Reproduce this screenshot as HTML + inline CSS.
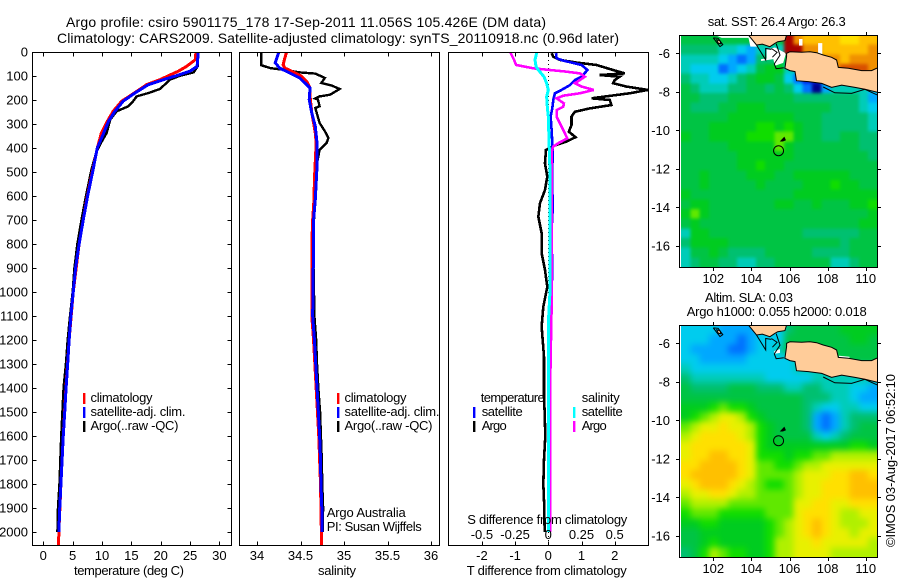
<!DOCTYPE html>
<html>
<head>
<meta charset="utf-8">
<title>Argo profile chart</title>
<style>
html,body{margin:0;padding:0;background:#fff;width:900px;height:580px;overflow:hidden}
svg{display:block;font-family:"Liberation Sans",sans-serif;fill:#000}
</style>
</head>
<body>
<svg id="chart" xmlns="http://www.w3.org/2000/svg" width="900" height="580" viewBox="0 0 900 580"></svg>
<script>
/* ---------- temperature panel ---------- */
const argoTempDepth=[0,60,85,99,115,140,154,171,185,205,226,247,282,337,380,420,490,600,700,800,900,1000,1100,1200,1300,1400,1500,1600,1700,1800,1900,2000];
const argoTemp=[26.3,26.3,25.6,23.3,21.6,20.5,19.9,17.9,15.9,15.3,14.5,12.5,11.4,10.8,9.8,9,8.2,7.27,6.5,5.8,5.3,5,4.55,4.15,3.85,3.45,3.25,3.05,2.9,2.75,2.5,2.4];
const climTempDepth=[0,32,60,80,99,115,136,171,205,247,289,337,400,500,600,800,1000,1200,1400,1600,1800,2000,2054];
const climTemp=[26,25.9,24.4,23,21.3,19.9,17.6,15.5,13.35,11.9,10.9,9.9,9.2,8.35,7.5,6.1,5.1,4.4,3.85,3.4,3,2.65,2.6];
const satTempDepth=[0,60,80,94,115,136,171,205,247,289,337,400,500,600,700,800,900,1000,1100,1200,1300,1400,1500,1600,1700,1800,1900,2000];
const satTemp=[26.4,26.2,25,23.3,20.5,17.9,15.6,13.6,12.2,11.1,10.3,9.2,8.4,7.55,6.8,6.1,5.5,5.1,4.7,4.4,4.15,3.88,3.65,3.4,3.2,3,2.8,2.65];
/* ---------- salinity panel ---------- */
const argoSalDepth=[0,55,67,74,85,90,108,129,140,154,178,185,194,198,226,233,296,330,358,379,407,462,615,700,800,900,1000,1100,1200,1300,1400,1500,1600,1700,1800,1900,2000];
const argoSal=[34.05,34.05,34.15,34.3,34.49,34.67,34.78,34.74,34.86,34.95,34.84,34.72,34.67,34.7,34.72,34.67,34.72,34.78,34.82,34.8,34.72,34.69,34.67,34.655,34.655,34.65,34.655,34.66,34.68,34.69,34.705,34.725,34.735,34.745,34.75,34.76,34.755];
const climSalDepth=[0,25,53,67,80,100,122,150,185,254,337,380,532,615,700,800,1100,1200,1400,1600,1800,2000,2054];
const climSal=[34.34,34.32,34.3,34.32,34.4,34.51,34.57,34.61,34.61,34.63,34.67,34.68,34.66,34.655,34.64,34.63,34.63,34.65,34.68,34.71,34.73,34.74,34.74];
const satSalDepth=[0,45,67,88,108,150,199,254,310,380,476,615,700,800,1100,1200,1300,1400,1500,1600,1700,1800,1900,2000];
const satSal=[34.25,34.21,34.26,34.38,34.49,34.61,34.6,34.63,34.67,34.69,34.69,34.67,34.65,34.65,34.64,34.66,34.675,34.69,34.705,34.72,34.73,34.735,34.745,34.745];
/* ---------- difference panel ---------- */
const diffTArgoDepth=[5,20,33,44,54,75,89,96,103,117,130,144,158,172,193,200,221,235,249,269,304,332,355,373,387,408,464,519,575,630,686,755,839,908,978,1061,1144,1269,1436,1500,1600,1700,1800,1900,2000];
const diffTArgo=[0.1,0.15,0.35,0.85,1.45,1.95,2.3,1.55,2.15,2,1.95,2.35,3,2.45,1.3,1.85,1.9,1.25,0.8,0.7,0.7,0.62,0.82,0.55,0.25,-0.07,-0.1,-0.03,-0.1,-0.25,-0.3,-0.2,-0.2,-0.1,-0.03,-0.15,-0.2,-0.13,-0.13,-0.11,-0.09,-0.13,-0.15,-0.12,-0.11];
const diffTSatDepth=[5,26,36,44,54,75,103,117,138,158,172,200,235,269,325,408,520,660,740,940,1000,1500,2000];
const diffTSat=[0.23,0.25,0.45,0.7,1,1.18,1,0.8,0.65,0.4,0.2,0.15,0.12,0.07,0.1,0.13,0.12,0.13,0.1,0.12,0.07,0.06,0.05];
const diffSArgoDepth=[0,33,54,68,75,82,89,103,117,130,144,158,172,182,193,214,228,242,269,297,339,360,380,394,415,492,630,922,1061,1200,1436,2000];
const diffSArgo=[-0.2875,-0.2575,-0.2425,-0.1125,0.0125,0.1375,0.2375,0.275,0.2375,0.2,0.25,0.3425,0.2375,0.1125,0.0625,0.1175,0.1125,0.0625,0.0625,0.0875,0.125,0.1425,0.075,0.0375,0.025,0.025,0.025,0.025,0.025,0.02,0.0125,0.0125];
const diffSSatDepth=[3,33,61,75,103,130,158,186,228,269,492,1000,1100,1900,2000];
const diffSSat=[-0.0875,-0.1,-0.0925,-0.075,-0.0325,-0.0125,0,-0.0125,-0.0075,0,0.0125,0.0125,0.003,0.003,0];
/* ---------- axis ticks ---------- */
const depthTicks=[0,100,200,300,400,500,600,700,800,900,1000,1100,1200,1300,1400,1500,1600,1700,1800,1900,2000];
const tempTicks=[0,5,10,15,20,25,30];
const salTicks=[34,34.5,35,35.5,36];
const salTickLabels=["34","34.5","35","35.5","36"];
const diffTTicks=[-2,-1,0,1,2];
const diffSTicks=[-0.5,-0.25,0,0.25,0.5];
const diffSTickLabels=["-0.5","-0.25","0","0.25","0.5"];
const lonTicks=[102,104,106,108,110];
const latTicks=[-6,-8,-10,-12,-14,-16];
/* ---------- maps: colour class per 0.5 degree cell, north to south ---------- */
const sstGrid=[
[7,7,7,7,7,7,7,7,7,7,7,17,15,14,14,14,14,13,13,14,14],
[6,6,6,6,5,5,4,3,5,5,5,17,17,15,15,14,14,14,14,14,15],
[5,5,5,5,4,3,2,3,6,6,6,7,7,7,7,15,15,14,15,15,15],
[5,4,4,4,2,3,4,5,7,8,8,5,5,5,5,5,15,16,16,16,15],
[6,5,5,4,4,5,6,7,8,8,7,4,2,1,1,3,5,5,5,5,5],
[7,6,5,5,5,6,6,7,7,6,7,6,4,2,0,3,5,5,5,5,4],
[7,7,6,6,6,7,7,7,7,7,7,7,6,6,6,6,6,6,6,5,3],
[7,6,6,6,7,7,8,8,8,7,7,7,7,7,7,7,6,6,6,5,4],
[7,7,7,7,7,8,8,8,8,8,8,8,7,7,7,6,6,6,6,6,5],
[7,7,7,8,8,8,8,8,9,9,8,9,8,7,7,6,6,6,6,6,5],
[8,7,7,8,8,8,8,9,9,9,10,10,8,7,7,6,6,7,7,6,6],
[7,7,7,7,7,8,8,8,8,8,10,8,7,7,7,7,7,7,7,6,6],
[7,7,7,7,7,7,8,8,8,8,8,8,7,7,7,7,7,7,7,7,6],
[7,7,7,7,7,7,8,8,9,8,8,7,7,7,7,7,7,7,7,7,7],
[7,7,8,7,7,7,7,8,8,8,7,7,8,8,8,8,8,8,7,7,7],
[7,7,8,7,7,7,7,7,8,7,7,7,7,8,8,8,9,8,8,7,7],
[8,7,7,7,7,7,7,7,7,7,7,7,8,8,8,8,8,8,8,8,8],
[7,8,8,7,7,7,7,7,7,7,8,8,7,7,8,7,7,7,8,8,9],
[8,10,8,7,7,7,7,7,7,7,7,7,7,7,7,7,7,7,7,7,8],
[7,8,7,7,7,7,7,7,7,7,7,7,7,7,7,7,7,7,7,8,8],
[5,8,8,7,7,7,7,7,7,7,7,7,7,6,6,6,6,6,6,7,7],
[6,8,8,8,8,7,7,7,7,7,7,7,7,7,7,7,7,6,7,7,7],
[5,7,7,8,7,6,6,6,6,7,7,7,7,7,6,6,6,6,7,7,7],
[5,6,7,7,6,6,5,5,6,6,7,7,7,7,7,7,5,5,6,7,7]];
const slaGrid=[
[4,4,4,4,3,3,3,3,4,4,4,6,7,7,7,7,7,8,8,8,8],
[4,4,4,3,3,3,2,3,4,4,4,7,7,7,7,7,7,7,8,8,7],
[4,3,3,3,3,2,2,3,4,4,5,7,7,7,7,7,7,7,7,7,7],
[4,4,3,3,3,3,3,4,4,4,4,4,5,5,5,5,7,7,7,7,7],
[5,4,4,4,4,4,4,4,4,4,4,4,5,5,5,5,5,5,5,5,5],
[6,5,5,5,5,5,5,5,5,4,4,4,4,4,5,5,5,5,5,5,5],
[7,6,6,6,6,7,7,7,6,6,6,5,5,6,6,5,5,5,4,4,3],
[7,7,7,7,7,7,7,7,7,7,7,7,7,6,6,6,5,5,4,3,3],
[8,8,8,9,10,9,9,8,7,7,7,7,7,6,5,4,4,5,5,4,4],
[8,9,10,11,12,12,11,9,8,7,7,7,7,6,3,2,3,5,6,6,6],
[10,11,12,12,13,12,12,11,9,8,7,7,7,6,3,2,3,5,6,7,7],
[11,12,13,13,13,13,12,11,9,8,7,7,7,7,5,4,5,6,7,7,7],
[12,13,13,13,13,13,13,12,9,8,8,8,8,8,8,8,8,8,9,9,8],
[12,13,13,14,14,13,13,12,9,9,9,8,9,9,10,10,11,11,11,11,11],
[13,13,14,14,14,14,13,12,10,10,9,9,10,11,11,12,12,12,12,12,12],
[13,14,14,14,14,14,13,12,10,10,10,10,11,12,12,12,13,13,14,14,13],
[12,13,14,14,14,13,12,11,10,9,9,10,11,12,12,13,13,13,14,14,14],
[11,12,12,13,13,12,11,11,10,10,10,10,11,12,12,13,13,13,14,14,14],
[10,11,11,11,11,10,10,10,10,10,10,10,12,12,13,13,12,12,13,13,13],
[9,10,10,10,9,9,9,9,9,10,10,10,12,13,13,13,12,11,11,12,12],
[8,8,9,9,8,8,8,8,8,9,10,11,12,13,14,13,12,11,11,11,12],
[7,7,8,8,8,8,8,8,8,9,10,11,12,13,14,13,12,12,11,12,12],
[7,7,8,9,8,8,8,8,8,9,11,11,12,12,13,12,12,12,12,12,11],
[6,7,9,11,10,9,9,8,8,9,11,11,12,12,12,12,11,11,11,11,11]];
const colourClasses=["#00008c","#0020e0","#0070ff","#00a8ff","#00ccee","#00ccb8","#00c070","#00c444","#00cc20","#10dd00","#60e800","#b0f000","#e8f000","#ffe000","#ffc000","#f09000","#d85000","#a80000"];
/* ---------- geography (lon, lat pairs) ---------- */
const sumatraCoast=[[103.84,-5.05],[104.27,-5.57],[104.57,-5.52],[104.97,-5.66],[105.24,-5.48],[105.38,-5.4],[105.76,-5.34],[105.85,-5.05]];
const javaCoast=[[105.85,-6],[106.02,-5.92],[106.64,-5.95],[107.07,-5.92],[107.42,-5.97],[107.77,-6.09],[108.21,-6.21],[108.47,-6.35],[108.56,-6.73],[109.09,-6.78],[109.79,-6.9],[110.31,-6.9],[110.57,-6.78],[110.7,-6.78],[110.7,-8.04],[109.96,-7.87],[109.44,-7.77],[108.74,-7.65],[108.21,-7.77],[107.69,-7.56],[106.99,-7.47],[106.37,-7.42],[106.29,-6.95],[106.02,-6.9],[105.76,-6.78],[105.85,-6.17]];
const offshoreLine=[[107.77,-7.75],[108.38,-8.05],[109.26,-8.08],[109.96,-7.87],[110.57,-8.15],[110.7,-8.18]];
const sundaLineA=[[104.27,-5.57],[104.75,-6.35],[104.75,-5.75],[105.05,-5.8]];
const sundaLineB=[[105.3,-5.5],[105.5,-6.1],[105.2,-6.55],[105.3,-6.8],[105.7,-6.75]];
const sundaLineC=[[105.05,-5.75],[105.35,-5.95],[105.1,-6.2]];
const engganoLine=[[102,-5.2],[102.25,-5.22],[102.5,-5.55],[102.35,-5.65],[102.15,-5.4],[102,-5.2]];
const engganoLand=[[102.18,-5.3],[102.35,-5.35],[102.4,-5.5],[102.27,-5.48]];
const christmasIsland=[[105.55,-10.55],[105.72,-10.37],[105.78,-10.5],[105.65,-10.55]];
const sstMissingA=[[102.09,-5.05],[103.88,-5.05],[104.33,-5.65],[103.95,-5.65],[103.85,-5.2],[102.44,-5.2]];
const sstMissingB=[[104.51,-6.3],[104.8,-6.27],[104.8,-5.8],[105.24,-5.7],[105.76,-5.97],[105.8,-6.05],[105.67,-6.5],[105.24,-6.65],[105.15,-6.3],[104.51,-6.4]];
const sstMissingC=[[106.5,-5.26],[106.68,-5.26],[106.68,-5.6],[106.5,-5.6]];
const sstMissingD=[[107.5,-5.47],[107.72,-5.47],[107.72,-6.15],[107.5,-6.15]];
const slaMissingA=[[105.2,-6.4],[105.5,-6.3],[105.5,-6.5],[105.2,-6.55]];
const slaMissingB=[[108.6,-6.65],[109.15,-6.7],[109.15,-6.78],[108.6,-6.75]];
const argoLon=105.426;
const argoLat=-11.056;

const NS="http://www.w3.org/2000/svg";
const svg=document.getElementById("chart");
function mk(tag,parent,attrs){
  const e=document.createElementNS(NS,tag);
  for(const k in attrs){e.setAttribute(k,attrs[k]);}
  parent.appendChild(e);
  return e;
}
function label(parent,name,str,x,y,opts){
  const o=opts||{};
  const a={x:x,y:y,"font-size":o.size||13,"text-anchor":o.anchor||"start"};
  if(o.len){a.textLength=o.len;a.lengthAdjust="spacing";}
  if(o.transform){a.transform=o.transform;}
  const t=mk("text",parent,a);
  t.textContent=str;
  
  
  return t;
}
function yDepth(d){return 52+0.24*d;}
function xTemp(v){return 43.3+5.87*v;}
function xSal(v){return 257+87*(v-34);}
function xDiffT(v){return 548.3+33.2*v;}
function xDiffS(v){return xDiffT(v*4);}

const defs=mk("defs",svg,{});
function defsClip(id,x,y,w,h){
  const c=mk("clipPath",defs,{id:id});
  mk("rect",c,{x:x,y:y,width:w,height:h});
}
function defsBlur(id,dev){
  const f=mk("filter",defs,{id:id,filterUnits:"userSpaceOnUse",x:650,y:0,width:250,height:580,"color-interpolation-filters":"sRGB"});
  mk("feGaussianBlur",f,{stdDeviation:dev});
}
function trace(parent,name,xs,ds,xf,color,w,clip){
  const pts=xs.map(function(v,i){return xf(v).toFixed(2)+","+yDepth(ds[i]).toFixed(2);}).join(" ");
  const p=mk("polyline",parent,{points:pts,fill:"none",stroke:color,"stroke-width":w,"clip-path":"url(#"+clip+")","stroke-linejoin":"miter","shape-rendering":"crispEdges"});
  
  
}
function frame(parent,name,x0,x1,y0,y1){
  const r=mk("rect",parent,{x:x0,y:y0,width:x1-x0,height:y1-y0,fill:"none",stroke:"#000","stroke-width":1,"shape-rendering":"crispEdges"});
  
  
}
function tick(parent,name,x1,y1,x2,y2){
  const l=mk("line",parent,{x1:x1,y1:y1,x2:x2,y2:y2,stroke:"#000","stroke-width":1,"shape-rendering":"crispEdges"});
  
  
}
function legendBar(parent,name,x,y,color){
  const r=mk("rect",parent,{x:x,y:y,width:2.4,height:11,fill:color});
  
  
}
function xTicksInward(parent,vals,xf){
  vals.forEach(function(v){
    const x=Math.round(xf(v))+0.5;
    tick(parent,'x-tick',x,52.5,x,56.5);
    tick(parent,'x-tick',x,545.5,x,541.5);
  });
}

/* titles */
const titleG=mk("g",svg,{});


label(titleG,'title-line-1',"Argo profile: csiro 5901175_178 17-Sep-2011 11.056S 105.426E (DM data)",66,27,{size:14,len:480});
label(titleG,'title-line-2',"Climatology: CARS2009. Satellite-adjusted climatology: synTS_20110918.nc (0.96d later)",57,43,{size:14,len:562});

/* temperature panel */
defsClip("clipT",33,53,198,492);
const pT=mk("g",svg,{});


trace(pT,'argo-temperature-line',argoTemp,argoTempDepth,xTemp,"#000",2.4,"clipT");
trace(pT,'climatology-temperature-line',climTemp,climTempDepth,xTemp,"#ff0000",3,"clipT");
trace(pT,'satellite-temperature-line',satTemp,satTempDepth,xTemp,"#0000ff",3,"clipT");
frame(pT,'temperature-frame',32.5,231.5,52.5,545.5);
depthTicks.forEach(function(d){
  const y=Math.round(yDepth(d))+0.5;
  if(d>0){
    tick(pT,'depth-tick',32.5,y,36.5,y);
    tick(pT,'depth-tick',231.5,y,227.5,y);
  }
  label(pT,'depth-label',String(d),28,yDepth(d)+4.5,{anchor:"end"});
});
xTicksInward(pT,tempTicks,xTemp);
tempTicks.forEach(function(v){label(pT,'temperature-tick-label',String(v),xTemp(v),560,{anchor:"middle"});});
label(pT,'temperature-axis-title',"temperature (deg C)",74,575,{len:110});
legendBar(pT,'legend-climatology-swatch',83,393,"#ff0000");
label(pT,'legend-climatology-label',"climatology",90.5,402,{len:62});
legendBar(pT,'legend-satellite-swatch',83,407,"#0000ff");
label(pT,'legend-satellite-label',"satellite-adj. clim.",90.5,416,{len:95});
legendBar(pT,'legend-argo-swatch',83,421,"#000");
label(pT,'legend-argo-label',"Argo(..raw -QC)",90.5,430,{len:88});

/* salinity panel */
defsClip("clipS",240,53,199,492);
const pS=mk("g",svg,{});


trace(pS,'argo-salinity-line',argoSal,argoSalDepth,xSal,"#000",2.4,"clipS");
trace(pS,'climatology-salinity-line',climSal,climSalDepth,xSal,"#ff0000",3,"clipS");
trace(pS,'satellite-salinity-line',satSal,satSalDepth,xSal,"#0000ff",3,"clipS");
frame(pS,'salinity-frame',239.5,439.5,52.5,545.5);
xTicksInward(pS,salTicks,xSal);
salTicks.forEach(function(v,i){label(pS,'salinity-tick-label',salTickLabels[i],xSal(v),560,{anchor:"middle"});});
label(pS,'salinity-axis-title',"salinity",318,575,{len:38});
legendBar(pS,'legend-climatology-swatch',337,393,"#ff0000");
label(pS,'legend-climatology-label',"climatology",344.5,402,{len:62});
legendBar(pS,'legend-satellite-swatch',337,407,"#0000ff");
label(pS,'legend-satellite-label',"satellite-adj. clim.",344.5,416,{len:95});
legendBar(pS,'legend-argo-swatch',337,421,"#000");
label(pS,'legend-argo-label',"Argo(..raw -QC)",344.5,430,{len:88});
label(pS,'argo-australia-note',"Argo Australia",326.7,517,{len:79});
label(pS,'pi-name-note',"PI: Susan Wijffels",326.7,531,{len:95});

/* difference panel */
defsClip("clipD",449,53,200,492);
const pD=mk("g",svg,{});


const zero=mk("line",pD,{x1:xDiffT(0),y1:52,x2:xDiffT(0),y2:545,stroke:"#000","stroke-width":1,"stroke-dasharray":"1 3","shape-rendering":"crispEdges"});


trace(pD,'temperature-diff-argo-line',diffTArgo,diffTArgoDepth,xDiffT,"#000",2.6,"clipD");
trace(pD,'temperature-diff-satellite-line',diffTSat,diffTSatDepth,xDiffT,"#0000ff",2.6,"clipD");
trace(pD,'salinity-diff-argo-line',diffSArgo,diffSArgoDepth,xDiffS,"#ff00ff",2.6,"clipD");
trace(pD,'salinity-diff-satellite-line',diffSSat,diffSSatDepth,xDiffS,"#00ffff",3,"clipD");
frame(pD,'difference-frame',448.5,648.5,52.5,545.5);
xTicksInward(pD,diffTTicks,xDiffT);
diffTTicks.forEach(function(v){label(pD,'t-difference-tick-label',String(v),xDiffT(v),560,{anchor:"middle"});});
diffSTicks.forEach(function(v,i){label(pD,'s-difference-tick-label',diffSTickLabels[i],xDiffS(v),539,{anchor:"middle"});});
label(pD,'s-difference-axis-title',"S difference from climatology",467.3,524,{len:160});
label(pD,'t-difference-axis-title',"T difference from climatology",466.7,575,{len:160});
label(pD,'legend-temperature-heading',"temperature",480.7,402,{len:64});
legendBar(pD,'legend-t-satellite-swatch',473,407,"#0000ff");
label(pD,'legend-t-satellite-label',"satellite",481.7,416,{len:41});
legendBar(pD,'legend-t-argo-swatch',473,421,"#000");
label(pD,'legend-t-argo-label',"Argo",481.7,430,{len:25});
label(pD,'legend-salinity-heading',"salinity",581.7,402,{len:38});
legendBar(pD,'legend-s-satellite-swatch',573,407,"#00ffff");
label(pD,'legend-s-satellite-label',"satellite",581.7,416,{len:41});
legendBar(pD,'legend-s-argo-swatch',573,421,"#ff00ff");
label(pD,'legend-s-argo-label',"Argo",581.7,430,{len:25});

/* maps */
function drawMap(name,grid,top,missing,blurDev){
  const clipId="clip"+name;
  const heatClipId="heatclip"+name;
  const blurId="blur"+name;
  defsClip(clipId,679.5,top,198,232);
  defsClip(heatClipId,681,top,196.5,232);
  defsBlur(blurId,blurDev);
  const g=mk("g",svg,{"clip-path":"url(#"+clipId+")"});
  
  
  const heatOuter=mk("g",g,{"clip-path":"url(#"+heatClipId+")"});
  const heat=mk("g",heatOuter,{filter:"url(#"+blurId+")"});
  
  
  const lonX=function(l){return 713.3+(l-102)*19.05;};
  const latY=function(l){return top+18.3+(-6-l)*19.27;};
  const x0=681,cw=(877.5-681)/21,y0=top,ch=232/24;
  const pad=14;
  grid.forEach(function(row,i){
    row.forEach(function(v,j){
      let x=x0+j*cw, y=y0+i*ch, w=cw+0.5, h=ch+0.5;
      if(j===0){x-=pad;w+=pad;}
      if(j===row.length-1){w+=pad;}
      if(i===0){y-=pad;h+=pad;}
      if(i===grid.length-1){h+=pad;}
      const c=mk("rect",heat,{x:x.toFixed(2),y:y.toFixed(2),width:w.toFixed(2),height:h.toFixed(2),fill:colourClasses[v],"shape-rendering":"crispEdges"});
      
      
    });
  });
  const pts=function(a){return a.map(function(p){return lonX(p[0]).toFixed(1)+","+latY(p[1]).toFixed(1);}).join(" ");};
  missing.forEach(function(m){
    const w=mk("polygon",g,{points:pts(m),fill:"#fff"});
    
    
  });
  const landList=[sumatraCoast,javaCoast,engganoLand];
  landList.forEach(function(c){
    const l=mk("polygon",g,{points:pts(c),fill:"#ffcc99",stroke:"#000","stroke-width":1});
    
    
  });
  const lines=[offshoreLine,sundaLineA,sundaLineB,sundaLineC,engganoLine];
  lines.forEach(function(c){
    const l=mk("polyline",g,{points:pts(c),fill:"none",stroke:"#000","stroke-width":1});
    
    
  });
  const ci=mk("polygon",g,{points:pts(christmasIsland),fill:"#000",stroke:"#000","stroke-width":1});
  
  
  const mark=mk("circle",g,{cx:lonX(argoLon),cy:latY(argoLat),r:5,fill:"none",stroke:"#000","stroke-width":1});
  
  

  const o=mk("g",svg,{});
  
  
  frame(o,name+'-frame',679.5,877.5,top+0.5,top+232.5);
  lonTicks.forEach(function(v){
    const x=Math.round(lonX(v))+0.5;
    tick(o,'lon-tick',x,top-3,x,top);
    tick(o,'lon-tick',x,top+233,x,top+236);
    label(o,'lon-label',String(v),lonX(v),top+248,{anchor:"middle",size:13});
  });
  latTicks.forEach(function(v){
    const y=Math.round(latY(v))+0.5;
    tick(o,'lat-tick',676,y,679.5,y);
    tick(o,'lat-tick',877.5,y,881,y);
    label(o,'lat-label',String(v),670,latY(v)+4.5,{anchor:"end",size:13});
  });
}
drawMap('sst',sstGrid,35,[sstMissingA,sstMissingB,sstMissingC,sstMissingD],1.6);
drawMap('sla',slaGrid,325,[slaMissingA,slaMissingB],3.2);

const mapText=mk("g",svg,{});


label(mapText,'sst-map-title',"sat. SST: 26.4  Argo: 26.3",707.7,26,{size:13,len:138});
label(mapText,'sla-map-title',"Altim. SLA: 0.03",705,302,{size:13,len:88});
label(mapText,'sla-map-subtitle',"Argo h1000: 0.055  h2000: 0.018",686.7,316,{size:13,len:180});
label(mapText,'imos-timestamp',"\u00A9IMOS 03-Aug-2017 06:52:10",0,0,{size:13,len:173,transform:"translate(895,547) rotate(-90)"});
</script>
</body>
</html>
